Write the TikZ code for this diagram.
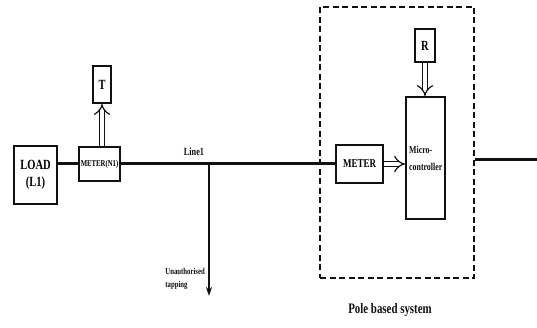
\documentclass[tikz,border=0pt]{standalone}
\usepackage{fontspec}
\setmainfont{Liberation Serif}[FakeStretch=0.75]
\usepackage{tikz}
\usetikzlibrary{arrows.meta,positioning}
\definecolor{Ink}{HTML}{111111}
\definecolor{Paper}{HTML}{FFFFFF}

\begin{document}
\begin{tikzpicture}[x=1pt,y=-1pt,
    blockbox/.style={draw=Ink,line width=2pt,fill=Paper,inner sep=0pt,font=\bfseries},
    wire/.style={draw=Ink,line width=3pt},
    hollow/.style={draw=Ink,double=Paper,double distance=4.5pt,line width=1.2pt,-{Implies[length=9pt,width=14pt]}},
    label/.style={font=\bfseries,text=Ink,inner sep=0pt}]
  \useasboundingbox[fill=Paper] (0,0) rectangle (537,328);
  \node[draw=Ink,line width=1.3pt,dash pattern=on 6pt off 3.5pt,minimum width=154pt,minimum height=271pt] (pole) at (397,142.5) {};
  \node[blockbox,minimum width=43pt,minimum height=58pt,align=center,font=\bfseries\fontsize{14}{17}\selectfont] (load) at (35.5,175) {LOAD\\(L1)};
  \node[blockbox,minimum width=41pt,minimum height=34pt,font=\bfseries\fontsize{9}{10}\selectfont] (meterN) at (99.5,164) {METER(N1)};
  \node[blockbox,minimum width=18pt,minimum height=37pt,font=\bfseries\fontsize{14}{15}\selectfont] (tbox) at (102,84.5) {T};
  \node[blockbox,minimum width=47pt,minimum height=38pt,font=\bfseries\fontsize{12}{13}\selectfont] (meter) at (359.5,164) {METER};
  \node[blockbox,minimum width=39pt,minimum height=122pt] (micro) at (425.5,158) {};
  \node[label,anchor=west,align=left,font=\bfseries\fontsize{10.5}{17}\selectfont] (microtext) at (409,158) {Micro-\\controller};
  \node[blockbox,minimum width=20pt,minimum height=33pt,font=\bfseries\fontsize{14}{15}\selectfont] (rbox) at (425,45.5) {R};
  \node[label,font=\bfseries\fontsize{11}{12}\selectfont] (line1) at (194,152) {Line1};
  \node[label,anchor=north east,align=left,font=\bfseries\fontsize{9}{13}\selectfont] (tapping) at (205,268) {Unauthorised\\tapping};
  \node[label,font=\bfseries\fontsize{14.5}{16}\selectfont] (poletext) at (390,310) {Pole based system};
  \coordinate (tap) at (209,164);
  \coordinate (tapend) at (209,296);
  \coordinate (out) at (537,160);
  \draw[wire] (meterN.west) -- (meterN.west -| load.east);
  \draw[wire] (meterN.east) -- (meter.west);
  \draw[wire] (pole.east |- out) -- (out);
  \draw[draw=Ink,line width=1.5pt,-{Stealth[length=9pt,width=6pt]}] (tap) -- (tapend);
  \draw[hollow] (meterN.north -| tbox.south) -- (tbox.south);
  \draw[hollow] (meter.east) -- (micro.west |- meter.east);
  \draw[hollow] (rbox.south) -- (rbox.south |- micro.north);
\end{tikzpicture}
\end{document}
